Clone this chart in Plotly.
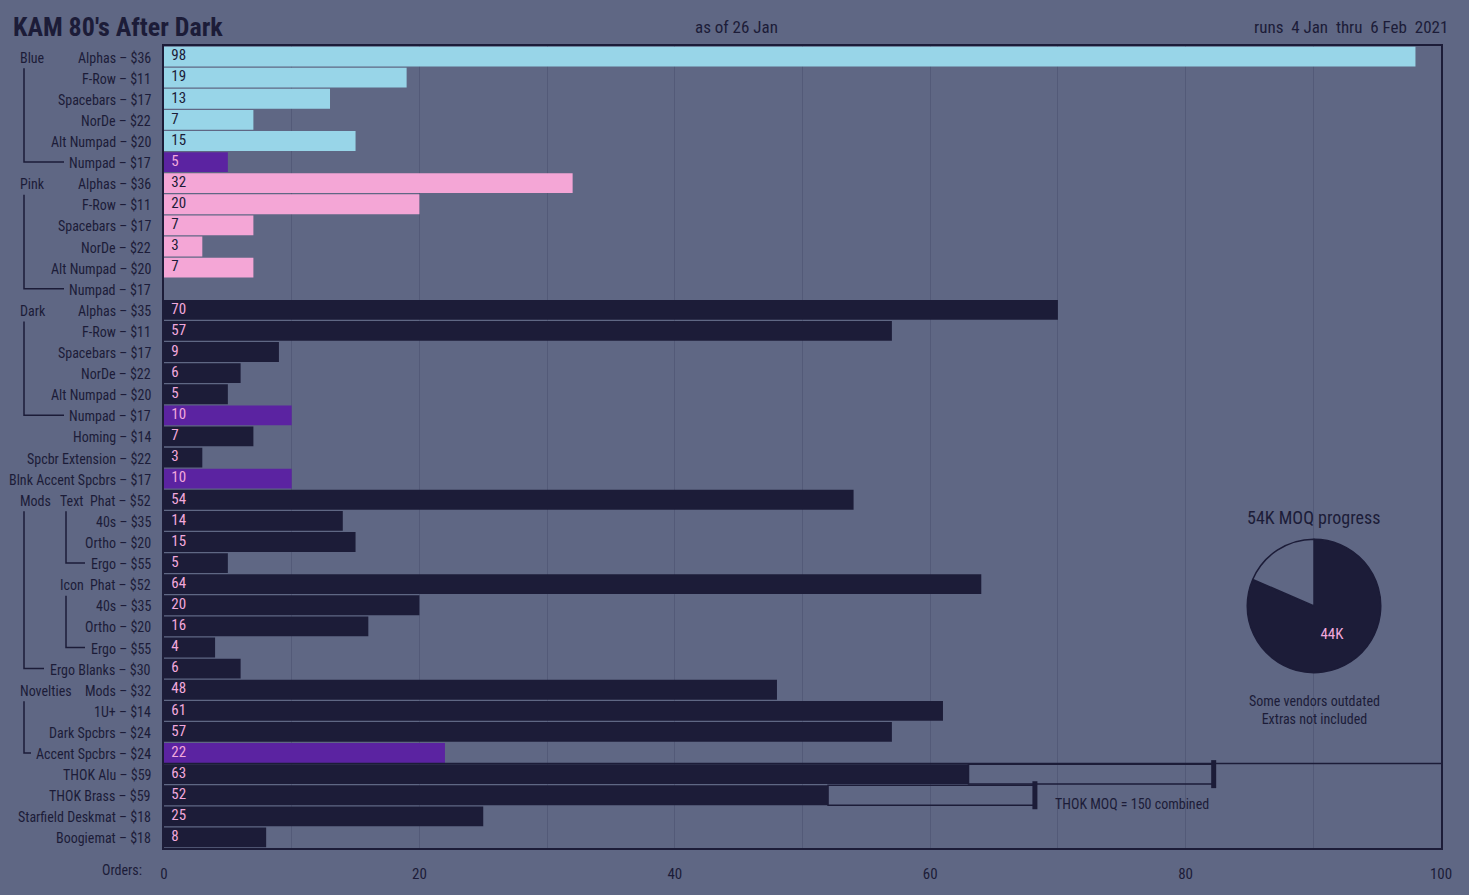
import plotly.graph_objects as go

# ---- data ----
items = ["Alphas – $36", "F-Row – $11", "Spacebars – $17", "NorDe – $22", "Alt Numpad – $20", "Numpad – $17",
         "Alphas – $36", "F-Row – $11", "Spacebars – $17", "NorDe – $22", "Alt Numpad – $20", "Numpad – $17",
         "Alphas – $35", "F-Row – $11", "Spacebars – $17", "NorDe – $22", "Alt Numpad – $20", "Numpad – $17",
         "Homing – $14", "Spcbr Extension – $22", "Blnk Accent Spcbrs – $17",
         "Phat – $52", "40s – $35", "Ortho – $20", "Ergo – $55",
         "Phat – $52", "40s – $35", "Ortho – $20", "Ergo – $55", "Ergo Blanks – $30",
         "Mods – $32", "1U+ – $14", "Dark Spcbrs – $24", "Accent Spcbrs – $24",
         "THOK Alu – $59", "THOK Brass – $59", "Starfield Deskmat – $18", "Boogiemat – $18"]
orders = [98, 19, 13, 7, 15, 5,
          32, 20, 7, 3, 7, 0,
          70, 57, 9, 6, 5, 10, 7, 3, 10,
          54, 14, 15, 5,
          64, 20, 16, 4, 6,
          48, 61, 57, 22,
          63, 52, 25, 8]
colorway = (["blue"] * 5 + ["accent"] + ["pink"] * 6 + ["dark"] * 5 + ["accent", "dark", "dark", "accent"]
            + ["dark"] * 12 + ["accent"] + ["dark"] * 4)

group_names = ["Blue", "Pink", "Dark", "Mods", "Novelties"]
group_first = [0, 6, 12, 21, 30]
group_last = [5, 11, 17, 29, 33]
sub_names = ["Text", "Icon"]
sub_first = [21, 25]
sub_last = [24, 28]

thok_rows = [34, 35]
thok_goal = [82.2, 68.2]

moq_labels = ["ordered", "remaining"]
moq_values = [44, 10]

# ---- style ----
BG = "#5f6784"
DARK = "#1c1c38"
GRID = "#535a78"
PINKTXT = "#f2a8dc"
FILL = {"blue": "#98d5e8", "pink": "#f4a6d6", "dark": DARK, "accent": "#5b23a1"}
TXT = {"blue": DARK, "pink": DARK, "dark": PINKTXT, "accent": PINKTXT}
FONT = "Roboto Condensed, Liberation Sans Narrow, Roboto, sans-serif"

W, H = 1469, 895
L, R, T, B = 164, 28, 46, 44
PW, PH = W - L - R, H - T - B


def px(x):
    return (x - L) / PW


def py(y):
    return (H - B - y) / PH


rows = list(range(len(items)))
fig = go.Figure()

fig.add_trace(go.Bar(
    x=orders, y=rows, orientation="h",
    marker=dict(color=[FILL[c] for c in colorway], line_width=0),
    hovertext=items, hoverinfo="text+x", showlegend=False))

# THOK outline up to the MOQ split
fig.add_trace(go.Bar(
    x=[g - orders[r] for g, r in zip(thok_goal, thok_rows)],
    base=[orders[r] for r in thok_rows], y=thok_rows, orientation="h",
    marker=dict(color="rgba(0,0,0,0)", line=dict(color=DARK, width=1.5)),
    hoverinfo="skip", showlegend=False))
fig.add_trace(go.Scatter(
    x=thok_goal, y=thok_rows, mode="markers",
    marker=dict(symbol="line-ns", size=20, line=dict(color=DARK, width=5)),
    hoverinfo="skip", showlegend=False))

# value labels at the start of each bar
fig.add_trace(go.Scatter(
    x=[0] * len(rows), y=rows, mode="markers+text",
    marker=dict(size=10, opacity=0),
    text=[str(v) if v else "" for v in orders], textposition="middle right",
    textfont=dict(family=FONT, size=15, color=[TXT[c] for c in colorway]),
    hoverinfo="skip", showlegend=False))

fig.add_trace(go.Pie(
    labels=moq_labels, values=moq_values, sort=False, direction="clockwise", rotation=0,
    marker=dict(colors=[DARK, BG], line=dict(color=DARK, width=1.5)),
    text=["44K", ""], textinfo="text", textposition="inside", insidetextorientation="horizontal",
    textfont=dict(family=FONT, size=15, color=PINKTXT),
    domain=dict(x=[px(1247), px(1381)], y=[py(675), py(541)]),
    showlegend=False, hoverinfo="label+value"))


def note(x, y, text, size, xanchor="center", **kw):
    return dict(x=px(x), y=py(y), xref="paper", yref="paper", text=text, showarrow=False,
                xanchor=xanchor, yanchor="middle", font=dict(size=size), **kw)


ann = []
for name, r in zip(items, rows):
    ann.append(dict(x=0, y=r, xref="paper", yref="y", text=name, showarrow=False,
                    xanchor="right", yanchor="middle", xshift=-11, yshift=-1, font=dict(size=14)))
for name, r in zip(group_names, group_first):
    ann.append(dict(x=px(18), y=r, xref="paper", yref="y", text=name, showarrow=False,
                    xanchor="left", yanchor="middle", yshift=-1, font=dict(size=14)))
for name, r in zip(sub_names, sub_first):
    ann.append(dict(x=px(58), y=r, xref="paper", yref="y", text=name, showarrow=False,
                    xanchor="left", yanchor="middle", yshift=-1, font=dict(size=14)))

ann += [
    note(11, 27, "<b>KAM 80's After Dark</b>", 26, xanchor="left"),
    note(736, 27, "as of 26 Jan", 17),
    note(1450, 27, "runs\u00a0 4 Jan\u00a0 thru\u00a0 6 Feb\u00a0 2021", 17, xanchor="right"),
    note(144, 873, "Orders:", 14, xanchor="right"),
    note(1313, 519, "54K MOQ progress", 18),
    note(1314, 712, "Some vendors outdated<br>Extras not included", 14),
    dict(x=69.6, y=35.4, xref="x", yref="y", text="THOK MOQ = 150 combined", showarrow=False,
         xanchor="left", yanchor="middle", font=dict(size=14)),
]

# tree connectors on the left
shapes = []
ends = {"Blue": 64, "Pink": 64, "Dark": 64, "Mods": 44, "Novelties": 31}
for name, r0, r1 in zip(group_names, group_first, group_last):
    shapes.append(dict(type="path", xref="paper", yref="y",
                       path=f"M {px(24)},{r0 + 0.55} L {px(24)},{r1} L {px(ends[name])},{r1}",
                       line=dict(color=DARK, width=1.5)))
for r0, r1 in zip(sub_first, sub_last):
    shapes.append(dict(type="path", xref="paper", yref="y",
                       path=f"M {px(66)},{r0 + 0.55} L {px(66)},{r1} L {px(85)},{r1}",
                       line=dict(color=DARK, width=1.5)))
# separator above THOK rows
shapes.append(dict(type="line", xref="paper", yref="y", x0=0, x1=1,
                   y0=thok_rows[0] - 0.5, y1=thok_rows[0] - 0.5,
                   line=dict(color=DARK, width=1.5)))

fig.update_layout(
    width=W, height=H,
    margin=dict(l=L, r=R, t=T, b=B),
    paper_bgcolor=BG, plot_bgcolor=BG,
    font=dict(family=FONT, color=DARK),
    barmode="overlay", bargap=0.06,
    annotations=ann, shapes=shapes,
    xaxis=dict(range=[0, 100], dtick=20, showgrid=True, gridcolor=GRID, gridwidth=1,
               minor=dict(dtick=10, showgrid=True, gridcolor=GRID, gridwidth=1),
               showline=True, mirror=True, linecolor=DARK, linewidth=1.5,
               zeroline=False, ticks="", ticklabelstandoff=11,
               tickfont=dict(size=15, color=DARK)),
    yaxis=dict(range=[len(items) - 0.5, -0.5], showticklabels=False, showgrid=False,
               showline=True, mirror=True, linecolor=DARK, linewidth=1.5, zeroline=False),
)

fig.write_html("out.html", config={"displayModeBar": False},
               post_script=f"document.body.style.margin='0';document.body.style.background='{BG}';")
